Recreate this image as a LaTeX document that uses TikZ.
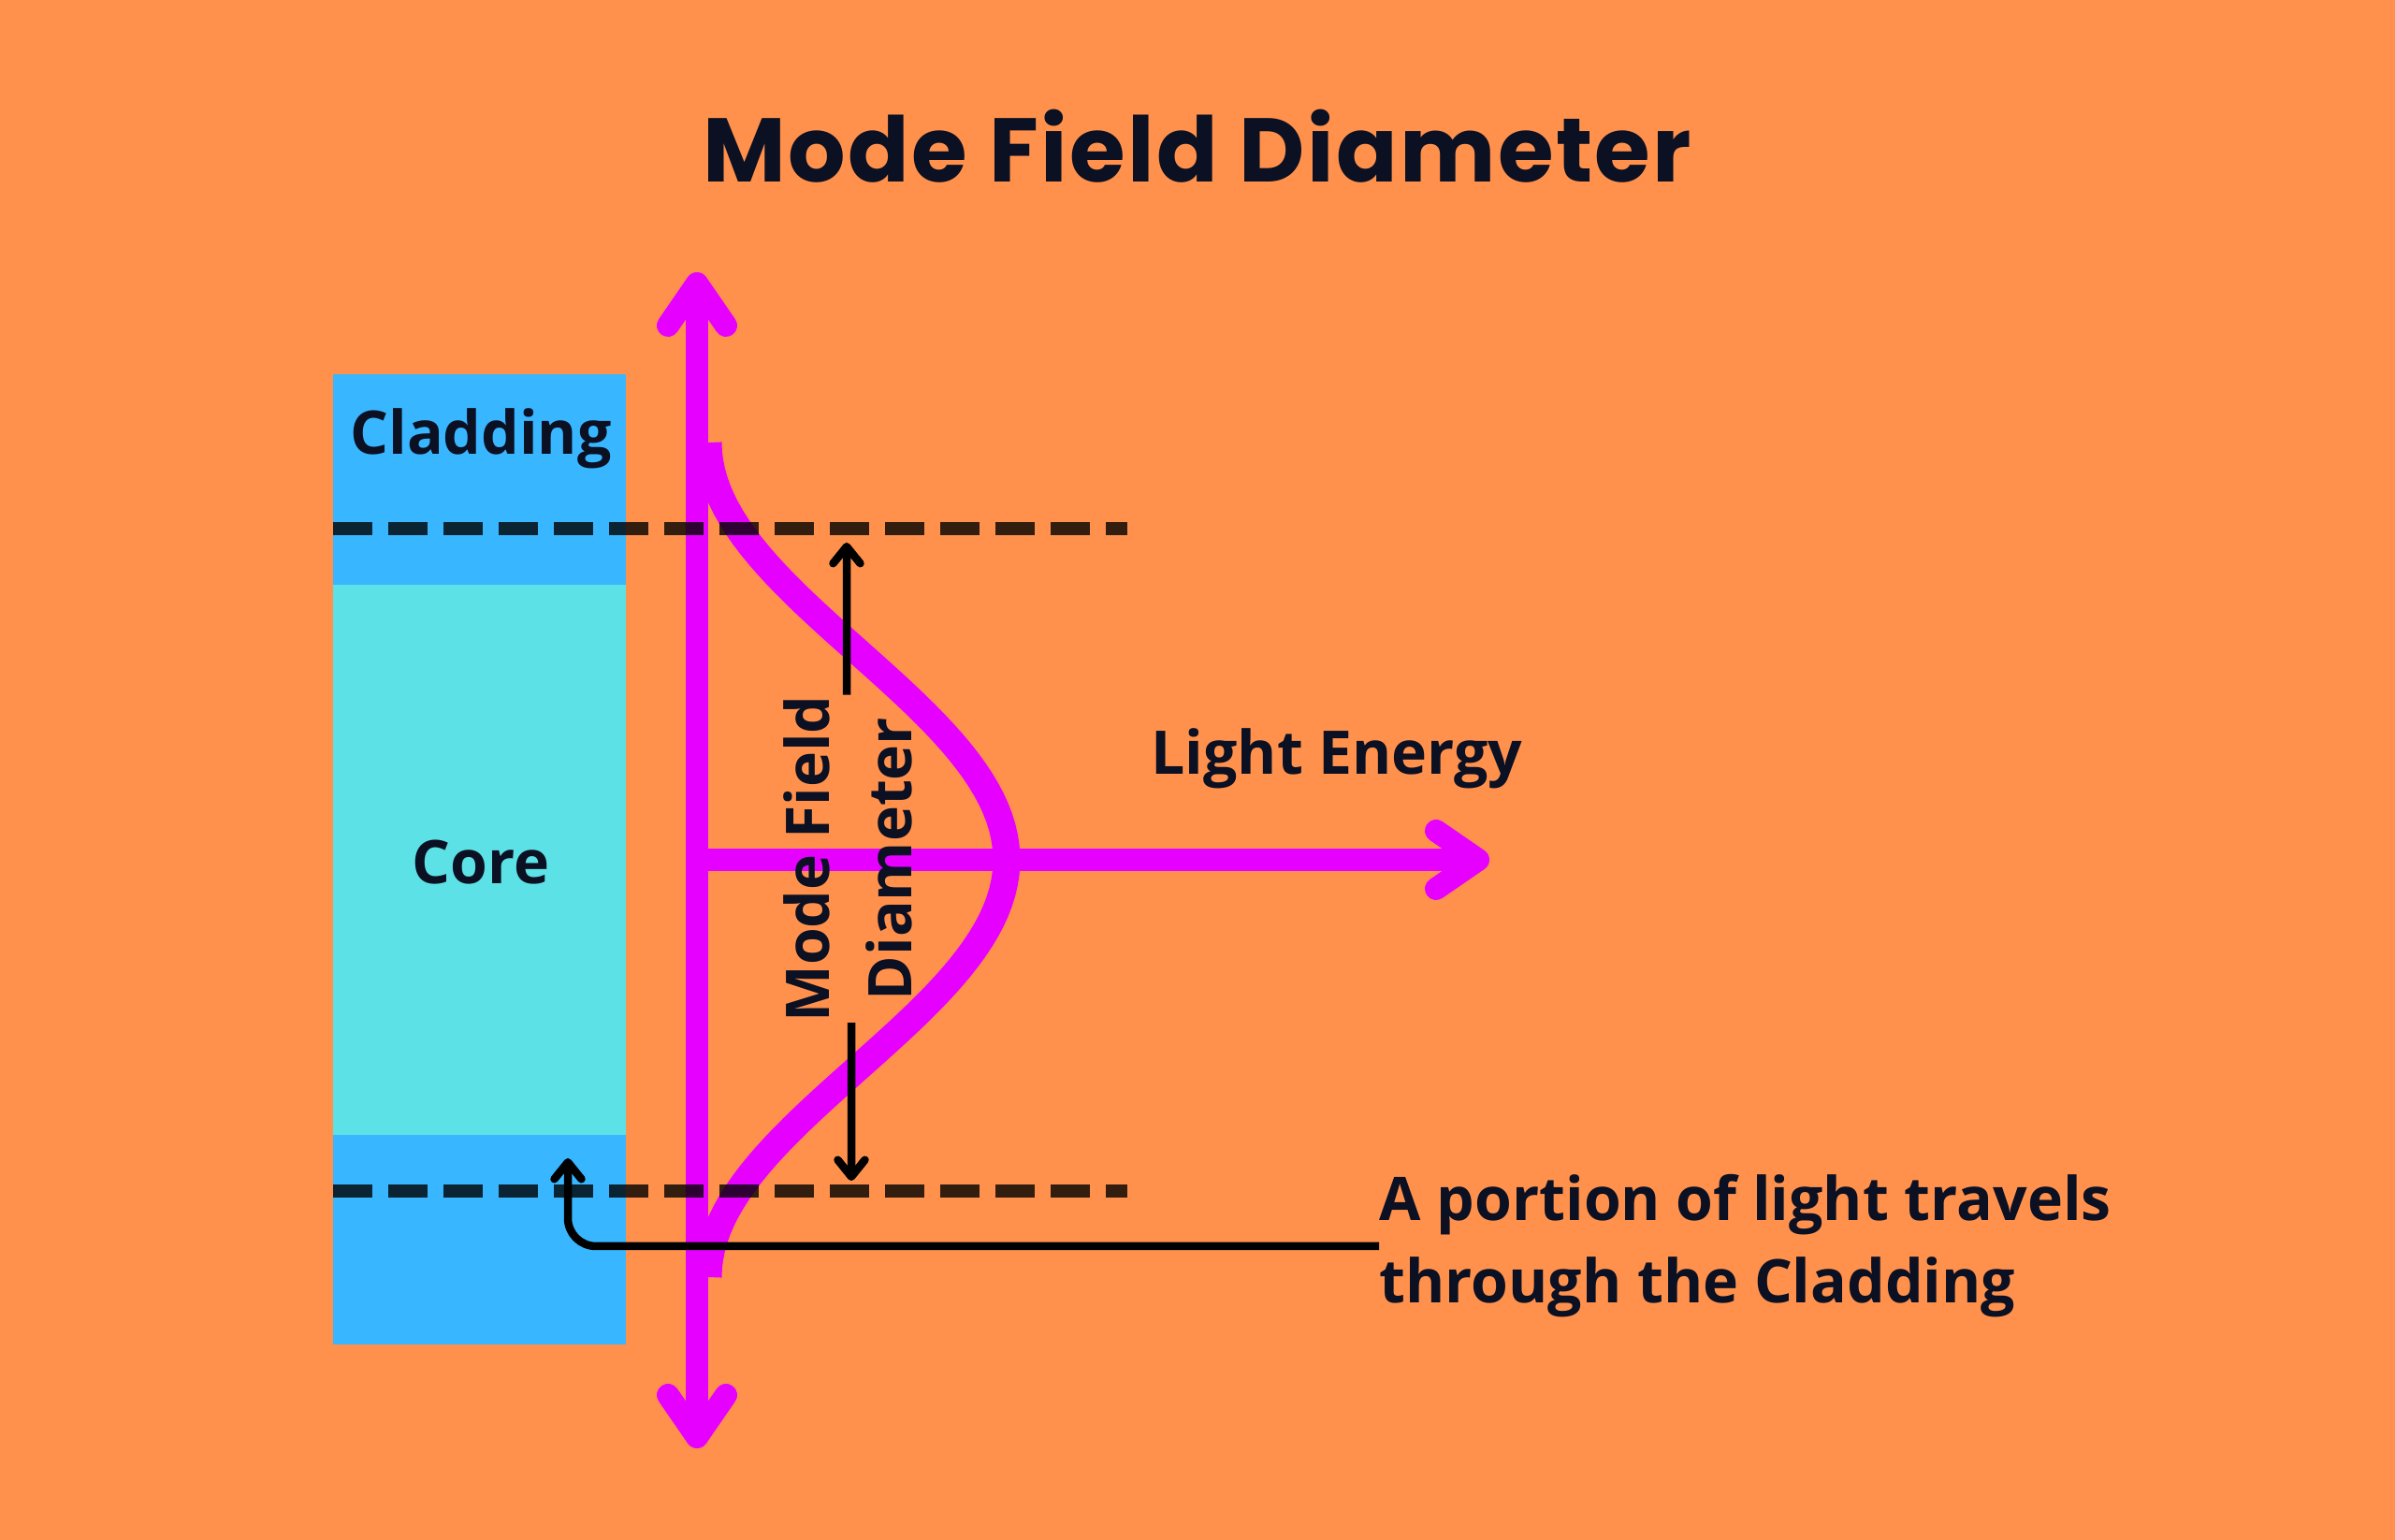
\documentclass[tikz,border=0pt]{standalone}
\usepackage{fontspec}
\setmainfont{Open Sans}
\newfontfamily\titlefont{Poppins}[LetterSpace=2.5]
\usetikzlibrary{arrows.meta}

\definecolor{bgorange}{HTML}{FF914D}
\definecolor{cladblue}{HTML}{38B6FF}
\definecolor{coreteal}{HTML}{5CE1E6}
\definecolor{fieldpink}{HTML}{E600FF}
\definecolor{inkblue}{HTML}{0B1022}

\begin{document}
\begin{tikzpicture}[>={Straight Barb[round, length=1.8mm, width=2.9mm]},
    font=\fontsize{18.3}{25}\selectfont\bfseries, text=inkblue]
      \useasboundingbox (0,0) rectangle (25.6,16.46);
      \fill[bgorange] (0,0) rectangle (25.6,16.46);

      % Define the styles
      \tikzstyle{axis}=[draw=fieldpink, line width=2.4mm]
      \tikzstyle{bigtip}=[arrows={-Straight Barb[round, length=4.5mm, width=6.2mm]}]
      \tikzstyle{curve}=[draw=fieldpink, line width=2.9mm]
      \tikzstyle{cutline}=[draw=black, opacity=0.8, line width=1.35mm, dash pattern=on 4.2mm off 1.7mm]
      \tikzstyle{dimline}=[draw=black, line width=0.85mm]

      % Fibre
      \fill[cladblue] (3.56,2.09) rectangle (6.69,12.46);
      \fill[coreteal] (3.56,4.33) rectangle (6.69,10.21);

      % Coordinates
      \coordinate (top) at (7.45,13.55);
      \coordinate (bottom) at (7.45,0.98);
      \coordinate (origin) at (7.45,7.27);
      \coordinate (energyend) at (15.92,7.27);
      \coordinate (topL) at (3.56,10.81);
      \coordinate (topR) at (12.05,10.81);
      \coordinate (botL) at (3.56,3.73);
      \coordinate (botR) at (12.05,3.73);
      \coordinate (mfdtop) at (9.05,10.66);
      \coordinate (mfdbot) at (9.10,3.84);
      \coordinate (cladpoint) at (6.07,4.08);

      % Axes and field profile
      \draw[axis, arrows={Straight Barb[round, length=4.5mm, width=6.2mm]-Straight Barb[round, length=4.5mm, width=6.2mm]}] (top) -- (bottom);
      \draw[axis, bigtip] (origin) -- (energyend);
      \draw[curve] plot[domain=-4.46:4.46, samples=90, variable=\t]
        ({7.57+3.19*cos(90*\t/4.46)*cos(90*\t/4.46)}, {7.27+\t});

      % Nodes
      \node (title) [anchor=base, font=\titlefont\fontsize{27.5}{32}\selectfont\bfseries] at (12.8,14.51) {Mode Field Diameter};
      \node (cladding) at (5.14,11.77) {Cladding};
      \node (core) at (5.14,7.24) {Core};
      \node (energy) at (14.29,8.35) {Light Energy};
      \node (mfd) [rotate=90, align=center, inner sep=0pt] at (9.06,7.28) {Mode Field\\Diameter};
      \node (portion) [anchor=west, align=left, inner sep=0pt] at (14.74,3.14) {A portion of light travels\\through the Cladding};

      % Edges
      \draw[cutline] (topL) -- (topR);
      \draw[cutline] (botL) -- (botR);
      \draw[dimline, ->] ([xshift=-0.1mm]mfd.east) -- (mfdtop);
      \draw[dimline, ->] ([xshift=0.4mm]mfd.west) -- (mfdbot);
      \draw[dimline, ->, rounded corners=3mm] (portion.west) -| (cladpoint);

\end{tikzpicture}
\end{document}
